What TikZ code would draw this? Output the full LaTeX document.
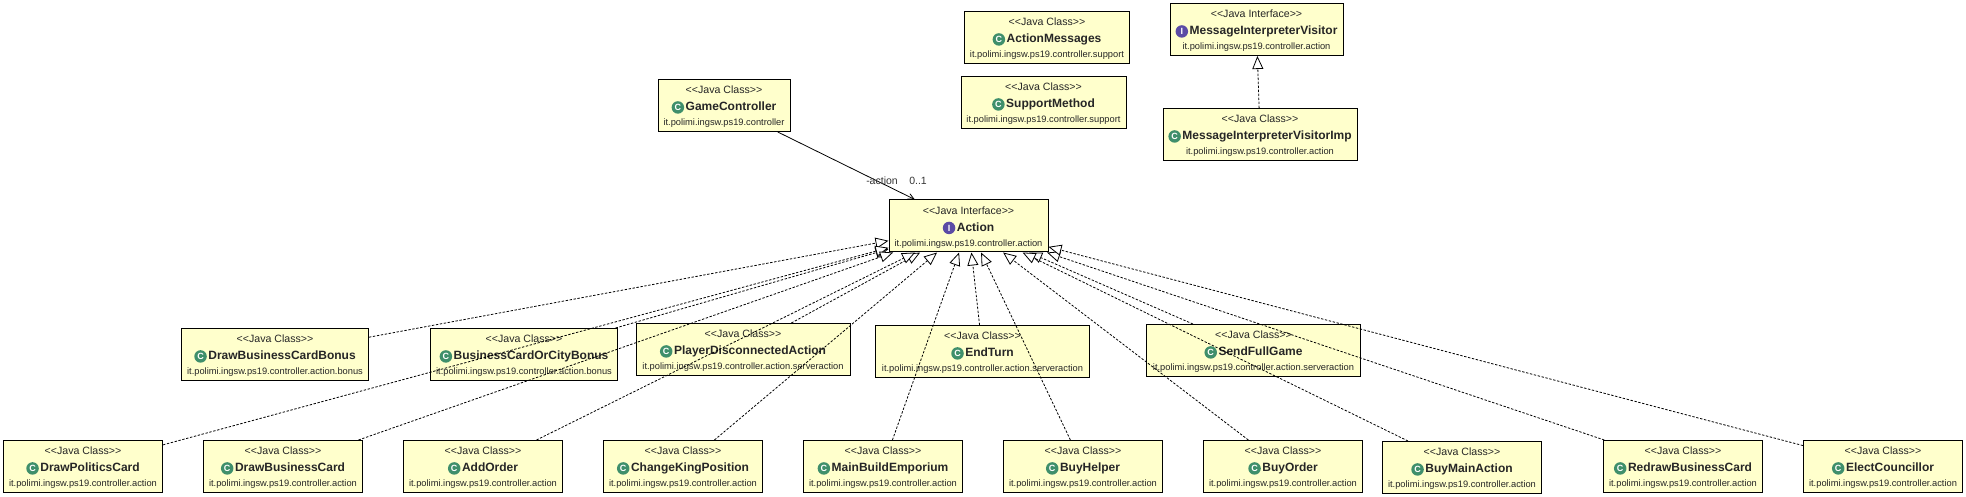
\documentclass[tikz,border=0pt]{standalone}
\usepackage{fontspec}
\setmainfont{Liberation Sans}
\usetikzlibrary{arrows.meta}
\definecolor{boxyellow}{HTML}{FFFFCC}
\definecolor{iconclass}{HTML}{3F8F6B}
\definecolor{iconface}{HTML}{5B4BA5}
\tikzset{
	umlbox/.style={draw=black, line width=1pt, fill=boxyellow, inner sep=0pt, minimum height=52pt, align=center, text=black!85, font=\fontsize{9.3}{16}\selectfont},
	badge/.style={circle, inner sep=0pt, minimum size=12.5pt, text=white, font=\bfseries\fontsize{9}{9}\selectfont, anchor=center},
	realize/.style={dash pattern=on 2.4pt off 1.6pt, line width=0.8pt, -{Triangle[open, length=13pt, width=11pt, line width=0.8pt, fill=white]}},
	assoc/.style={line width=0.8pt, -{Straight Barb[length=6pt, width=6pt]}},
	rolelabel/.style={inner sep=0pt, text=black!80, font=\fontsize{10.5}{12}\selectfont}
}
\newcommand{\boxtitle}[3]{\rule{0pt}{10pt}{\fontsize{10.6}{16}\selectfont{<}{<}Java #1{>}{>}}\\[1pt]\smash{\tikz[baseline=(icon.base)]\node (icon) [badge, fill=#2] {#3};}\,\fontsize{12}{16}\selectfont\bfseries}
\newcommand{\classbox}[6]{\node (#1) [umlbox, minimum width=#4pt] at (#2, #3) {\boxtitle{Class}{iconclass}{C}#5\\[-1pt]#6};}
\newcommand{\facebox}[6]{\node (#1) [umlbox, minimum width=#4pt] at (#2, #3) {\boxtitle{Interface}{iconface}{I}#5\\[-1pt]#6};}
\begin{document}
\begin{tikzpicture}[x=1pt, y=-1pt]
	\useasboundingbox (0, 0) rectangle (1966, 497);

	% top row
	\classbox{ActionMessages}{1047}{37.5}{165}{ActionMessages}{it.polimi.ingsw.ps19.controller.support}
	\classbox{SupportMethod}{1043.5}{102.5}{165}{SupportMethod}{it.polimi.ingsw.ps19.controller.support}
	\facebox{Visitor}{1256.5}{29.5}{173}{MessageInterpreterVisitor}{it.polimi.ingsw.ps19.controller.action}
	\classbox{VisitorImp}{1260}{134.5}{194}{MessageInterpreterVisitorImp}{it.polimi.ingsw.ps19.controller.action}
	\classbox{GameController}{724}{105.5}{132}{GameController}{it.polimi.ingsw.ps19.controller}
	\facebox{Action}{968.5}{226}{159}{Action}{it.polimi.ingsw.ps19.controller.action}

	% middle row
	\classbox{BonusCard}{275}{354.5}{187}{DrawBusinessCardBonus}{it.polimi.ingsw.ps19.controller.action.bonus}
	\classbox{BonusCity}{524}{354.5}{187}{BusinessCardOrCityBonus}{it.polimi.ingsw.ps19.controller.action.bonus}
	\classbox{Disconnected}{743}{349.5}{214}{PlayerDisconnectedAction}{it.polimi.ingsw.ps19.controller.action.serveraction}
	\classbox{EndTurn}{982.5}{351.5}{214}{EndTurn}{it.polimi.ingsw.ps19.controller.action.serveraction}
	\classbox{FullGame}{1253.5}{350.5}{214}{SendFullGame}{it.polimi.ingsw.ps19.controller.action.serveraction}

	% bottom row
	\classbox{PoliticsCard}{83}{466.5}{159}{DrawPoliticsCard}{it.polimi.ingsw.ps19.controller.action}
	\classbox{BusinessCard}{283}{466.5}{159}{DrawBusinessCard}{it.polimi.ingsw.ps19.controller.action}
	\classbox{AddOrder}{483}{466.5}{159}{AddOrder}{it.polimi.ingsw.ps19.controller.action}
	\classbox{KingPosition}{683}{466.5}{159}{ChangeKingPosition}{it.polimi.ingsw.ps19.controller.action}
	\classbox{Emporium}{883}{466.5}{159}{MainBuildEmporium}{it.polimi.ingsw.ps19.controller.action}
	\classbox{BuyHelper}{1083}{466.5}{159}{BuyHelper}{it.polimi.ingsw.ps19.controller.action}
	\classbox{BuyOrder}{1283}{466.5}{159}{BuyOrder}{it.polimi.ingsw.ps19.controller.action}
	\classbox{BuyMain}{1462}{467.5}{159}{BuyMainAction}{it.polimi.ingsw.ps19.controller.action}
	\classbox{RedrawCard}{1683}{466.5}{159}{RedrawBusinessCard}{it.polimi.ingsw.ps19.controller.action}
	\classbox{Councillor}{1883}{466.5}{159}{ElectCouncillor}{it.polimi.ingsw.ps19.controller.action}

	% connectors
	\foreach \from in {BonusCard, BonusCity, Disconnected, EndTurn, FullGame, PoliticsCard, BusinessCard, AddOrder, KingPosition, Emporium, BuyHelper, BuyOrder, BuyMain, RedrawCard, Councillor}
		\draw[realize] (\from) -- (Action);
	\draw[realize] (VisitorImp) -- (Visitor);
	\draw[assoc] (GameController) -- (Action);

	\node (RoleName) [rolelabel] at (882, 181) {-action};
	\node (RoleCount) [rolelabel] at (918, 181) {0..1};
\end{tikzpicture}
\end{document}
